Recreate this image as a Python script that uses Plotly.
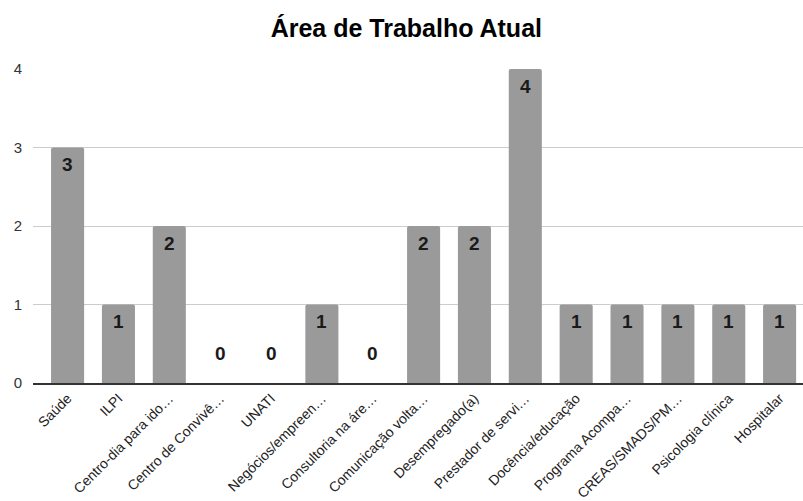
import plotly.graph_objects as go

categories = [
    "Saúde", "ILPI", "Centro-dia para ido…", "Centro de Convivê…", "UNATI",
    "Negócios/empreen…", "Consultoria na áre…", "Comunicação volta…",
    "Desempregado(a)", "Prestador de servi…", "Docência/educação",
    "Programa Acompa…", "CREAS/SMADS/PM…", "Psicologia clínica", "Hospitalar",
]
values = [3, 1, 2, 0, 0, 1, 0, 2, 2, 4, 1, 1, 1, 1, 1]
y_ticks = [0, 1, 2, 3, 4]

FONT = "Liberation Sans, Arial, sans-serif"

fig = go.Figure(
    go.Bar(
        x=categories,
        y=values,
        marker=dict(color="#9a9a9a", line=dict(width=0), cornerradius=2),
        hoverinfo="skip",
    )
)

# value labels: inside the top of each bar, or floating above the baseline for zeros
for cat, v in zip(categories, values):
    fig.add_annotation(
        x=cat, y=v, text=f"<b>{v}</b>", showarrow=False,
        yshift=-17 if v > 0 else 30,
        font=dict(family=FONT, size=19, color="#1a1a1a"),
    )

fig.update_layout(
    width=803, height=501,
    margin=dict(l=33, r=0, t=69, b=118),
    paper_bgcolor="white", plot_bgcolor="white",
    bargap=0.35,
    showlegend=False,
    title=dict(
        text="<b>Área de Trabalho Atual</b>",
        x=0.506, xanchor="center", y=0.944, yanchor="middle",
        font=dict(family=FONT, size=25, color="#000000"),
    ),
    font=dict(family=FONT),
)
fig.update_xaxes(
    range=[-0.68, 14.46],
    tickangle=-45, tickfont=dict(size=14, color="#222222"),
    showline=True, linecolor="#333333", linewidth=1.5,
    showgrid=False, ticks="",
)
fig.update_yaxes(
    range=[0, 4], tickvals=y_ticks, tickfont=dict(size=15, color="#333333"),
    showgrid=True, gridcolor="#cccccc", gridwidth=1,
    zeroline=False, ticks="", ticklabelstandoff=10,
)

fig.write_html("out.html")
